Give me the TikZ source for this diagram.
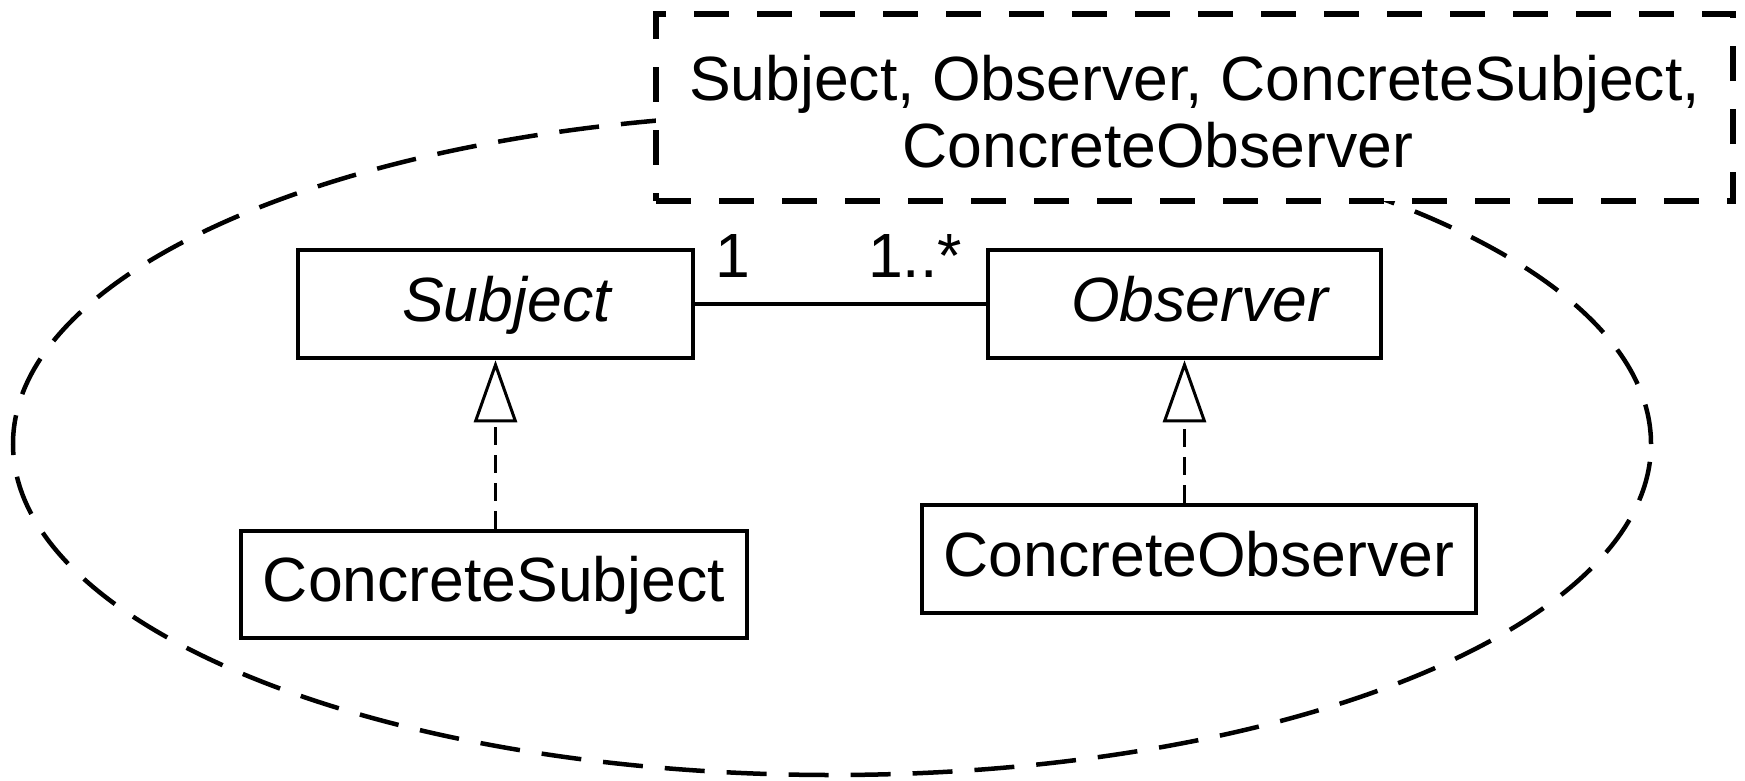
\documentclass[tikz,border=0pt]{standalone}
\usepackage{fontspec}
\setmainfont{Liberation Sans}
\usetikzlibrary{arrows.meta}

\tikzset{
  x=1pt, y=1pt,
  umlfont/.style={font=\fontsize{62.5pt}{67pt}\selectfont},
  classbox/.style={draw, line width=4.5pt, fill=white, rectangle, inner sep=0pt,
    umlfont, text height=44.75pt, text depth=10pt},
  collabbox/.style={draw, line width=5.5pt, fill=white, rectangle, inner sep=0pt,
    umlfont, align=center, dash pattern=on 35pt off 28pt},
  collabring/.style={draw, line width=4.5pt, dash pattern=on 40pt off 22pt},
  assoc/.style={draw, line width=4.5pt},
  mult/.style={umlfont, inner sep=0pt, anchor=base west},
  realize/.style={draw, line width=3pt, dash pattern=on 18pt off 10pt,
    -{Triangle[open, length=62pt, width=43pt, line width=3pt]}},
}

\begin{document}
\begin{tikzpicture}
  \useasboundingbox (0,0) rectangle (1745,-780);

  % collaboration ellipse, partly hidden by the label box
  \draw[collabring] (832,-444) ellipse [x radius=819, y radius=331];

  % collaboration name box
  \node[collabbox, minimum width=1077pt, minimum height=187pt] (collab) at (1194.5,-107.5)
    {\rule{0pt}{53pt}Subject, Observer, ConcreteSubject,\\ConcreteObserver\hspace*{73pt}};

  % classes
  \node[classbox, minimum width=395pt, minimum height=108pt] (sub) at (495.5,-304)
    {\hspace*{22pt}\itshape Subject};
  \node[classbox, minimum width=393pt, minimum height=108pt] (obs) at (1184.5,-304)
    {\hspace*{30pt}\itshape Observer};
  \node[classbox, minimum width=506pt, minimum height=107pt] (csub) at (494,-584.5)
    {ConcreteSubject};
  \node[classbox, minimum width=554pt, minimum height=108pt] (cobs) at (1199,-559)
    {ConcreteObserver};

  % association with multiplicities
  \draw[assoc] (sub.east) -- (obs.west);
  \node[mult] (m1) at (715,-277) {1};
  \node[mult] (mn) at (868,-277) {1..*};

  % realizations
  \draw[realize] (csub.north -| sub.south) -- (sub.south);
  \draw[realize] (cobs.north -| obs.south) -- (obs.south);
\end{tikzpicture}
\end{document}
